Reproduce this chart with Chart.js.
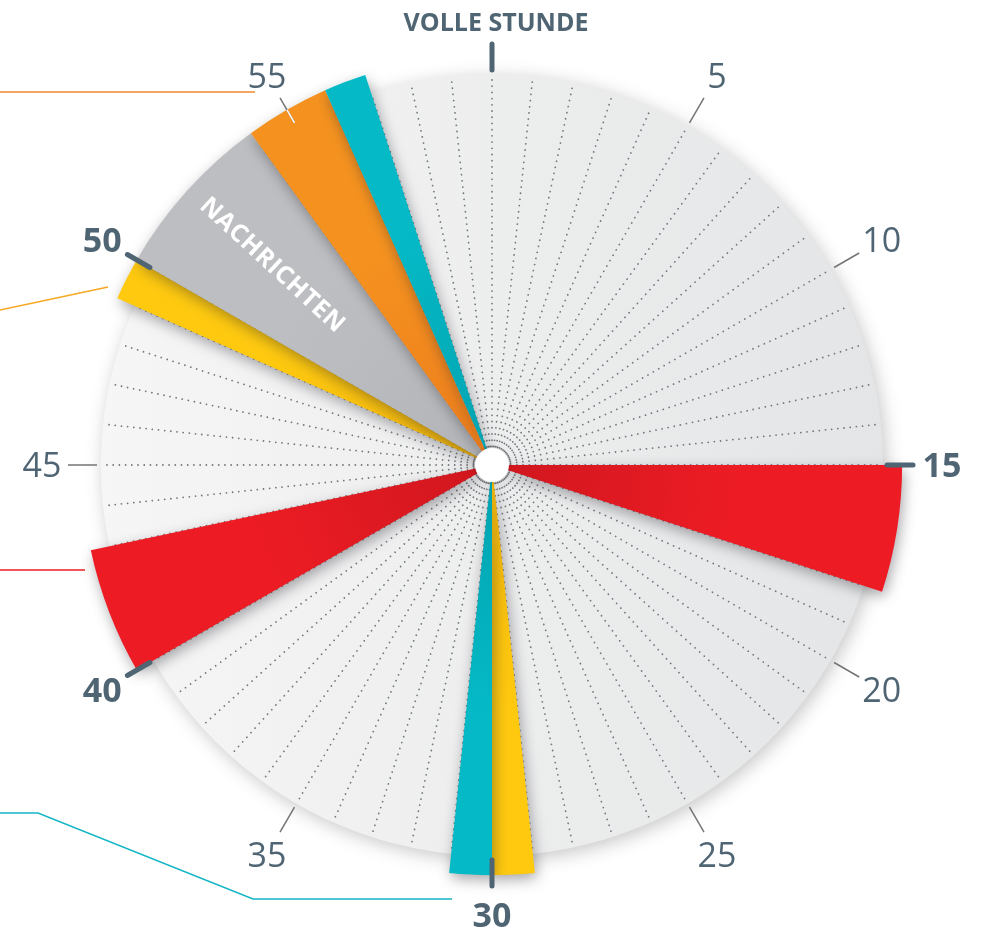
<!DOCTYPE html>
<html>
<head>
<meta charset="utf-8">
<script src="https://cdn.jsdelivr.net/npm/chart.js@4/dist/chart.umd.min.js"></script>
<style>
  html, body { margin: 0; padding: 0; background: #ffffff; }
  canvas { display: block; }
</style>
</head>
<body>
<canvas id="c" width="986" height="930"></canvas>
<script>
// ---- DATA -------------------------------------------------------------
// Minutes of the hour (categories of the clock face)
const minuteLabels = ['0','1','2','3','4','5','6','7','8','9','10','11','12','13','14','15','16','17','18','19',
  '20','21','22','23','24','25','26','27','28','29','30','31','32','33','34','35','36','37','38','39',
  '40','41','42','43','44','45','46','47','48','49','50','51','52','53','54','55','56','57','58','59'];

// Blocks of the hour, in order from the full hour
const segmentType    = ['frei','rot','frei','gelb','tuerkis','frei','rot','frei','gelb','nachrichten','orange','tuerkis','frei'];
const segmentMinutes = [15, 3, 11, 1, 1, 9, 3, 6, 1, 4, 2, 1, 3];
const segmentOnAir   = [0, 1, 0, 1, 1, 0, 1, 0, 1, 1, 1, 1, 0];
const segmentTitles  = ['', '', '', '', '', '', '', '', '', 'NACHRICHTEN', '', '', ''];

// Clock-face ticks
const tickMinutes = [0, 5, 10, 15, 20, 25, 30, 35, 40, 45, 50, 55];
const tickLabels  = ['VOLLE STUNDE', '5', '10', '15', '20', '25', '30', '35', '40', '45', '50', '55'];
const majorTicks  = [0, 15, 30, 40, 50];

// ---- STYLE ------------------------------------------------------------
const COLORS = {
  rot:         ['#CF161E', '#ED1C24'],
  tuerkis:     ['#02A2AF', '#05B9C6'],
  gelb:        ['#F4B50B', '#FEC90F'],
  nachrichten: ['#B3B4B7', '#BDBEC1'],
  orange:      ['#EC7C1D', '#F5921F'],
  frei:        ['rgba(0,0,0,0)', 'rgba(0,0,0,0)']
};
const SLATE = '#506573';
const MINOR = '#737477';
const SCALE_MAX = 0.946;   // on-air blocks reach a little beyond the clock face

// cumulative start minute of each block
const segmentStart = [];
segmentMinutes.reduce((acc, m, i) => { segmentStart[i] = acc; return acc + m; }, 0);
function onAirAt(minute) {
  for (let i = 0; i < segmentStart.length; i++) {
    if (minute >= segmentStart[i] && minute < segmentStart[i] + segmentMinutes[i]) return segmentOnAir[i] === 1;
  }
  return false;
}

function fillFor(ctx) {
  const t = segmentType[ctx.dataIndex];
  const c = COLORS[t];
  if (!c) return 'rgba(0,0,0,0)';
  const chart = ctx.chart;
  const s = chart.scales && chart.scales.r;
  if (t === 'frei' || !s || !chart.chartArea || !isFinite(s.xCenter)) return c[1];
  const R = s.getDistanceFromCenterForValue(1);
  if (!isFinite(R) || R <= 0) return c[1];
  const g = chart.ctx.createRadialGradient(s.xCenter, s.yCenter, 0, s.xCenter, s.yCenter, R);
  g.addColorStop(0, c[0]);
  g.addColorStop(0.6, c[1]);
  g.addColorStop(1, c[1]);
  return g;
}

function angleFor(ctx) {
  const m = segmentMinutes[ctx.dataIndex];
  return m === undefined ? undefined : m * 6;
}

const clockFace = {
  id: 'clockFace',
  beforeDraw(chart) {
    const s = chart.scales.r, ctx = chart.ctx;
    const R = s.drawingArea * 1.008;
    ctx.save();
    ctx.shadowColor = 'rgba(0,0,0,0.22)';
    ctx.shadowBlur = 18;
    ctx.shadowOffsetX = 3;
    ctx.shadowOffsetY = 4;
    const g = ctx.createLinearGradient(s.xCenter - R, 0, s.xCenter + R, 0);
    g.addColorStop(0, '#F6F6F6');
    g.addColorStop(1, '#E4E5E6');
    ctx.fillStyle = g;
    ctx.beginPath();
    ctx.arc(s.xCenter, s.yCenter, R, 0, Math.PI * 2);
    ctx.fill();
    ctx.restore();
    // round dots for the dotted minute lines
    ctx.lineCap = 'round';
  },
  beforeDatasetsDraw(chart) {
    const ctx = chart.ctx;
    ctx.lineCap = 'butt';
    ctx.save();
    ctx.shadowColor = 'rgba(30,30,40,0.38)';
    ctx.shadowBlur = 14;
    ctx.shadowOffsetX = 2;
    ctx.shadowOffsetY = 5;
  },
  afterDatasetsDraw(chart) {
    const ctx = chart.ctx, s = chart.scales.r;
    ctx.restore();
    const u = s.drawingArea / 388;
    // segment titles
    segmentTitles.forEach((title, i) => {
      if (!title) return;
      const mid = segmentStart[i] + segmentMinutes[i] / 2 + 0.1;
      const p = s.getPointPosition(mid, 297 * u);
      const a = s.getIndexAngle(mid) - Math.PI / 2 + Math.PI;
      ctx.save();
      ctx.translate(p.x, p.y);
      ctx.rotate(a);
      ctx.fillStyle = '#ffffff';
      ctx.font = 'bold 25px "Open Sans", "Noto Sans", sans-serif';
      ctx.letterSpacing = '0.5px';
      ctx.textAlign = 'center';
      ctx.textBaseline = 'alphabetic';
      ctx.fillText(title, 0, 9);
      ctx.restore();
    });
    // white hub
    ctx.save();
    ctx.shadowColor = 'rgba(0,0,0,0.18)';
    ctx.shadowBlur = 5;
    ctx.fillStyle = '#ffffff';
    ctx.beginPath();
    ctx.arc(s.xCenter, s.yCenter, 17 * u, 0, Math.PI * 2);
    ctx.fill();
    ctx.restore();
  },
  afterDraw(chart) {
    const ctx = chart.ctx, s = chart.scales.r;
    const u = s.drawingArea / 388;
    const cx = s.xCenter, cy = s.yCenter;

    // leader lines towards the legend (left, outside the picture)
    ctx.save();
    ctx.lineWidth = 1.6;
    const lines = [
      ['#F0892C', [[0, -373], [-237, -373]]],
      ['#F7A823', [[0, -155], [-384, -178]]],
      ['#ED1C24', [[0, 105], [-407, 105]]],
      ['#15B6C6', [[0, 348], [-454, 348], [-239, 434], [-40, 434]]]
    ];
    lines.forEach(([col, pts]) => {
      ctx.strokeStyle = col;
      ctx.beginPath();
      pts.forEach(([dx, dy], k) => {
        const x = dx === 0 ? 0 : cx + dx * u;
        const y = cy + dy * u;
        if (k === 0) ctx.moveTo(x, y); else ctx.lineTo(x, y);
      });
      ctx.stroke();
    });
    ctx.restore();

    // ticks
    tickMinutes.forEach((m) => {
      const major = majorTicks.includes(m);
      const p1 = s.getPointPosition(m, 395 * u);
      const p2 = s.getPointPosition(m, (major ? 421 : 424) * u);
      ctx.save();
      ctx.lineCap = major ? 'round' : 'butt';
      ctx.lineWidth = major ? 5 : 1.5;
      ctx.strokeStyle = major ? SLATE : MINOR;
      ctx.beginPath();
      ctx.moveTo(p1.x, p1.y);
      ctx.lineTo(p2.x, p2.y);
      ctx.stroke();
      if (!major && onAirAt(m)) {
        const p3 = s.getPointPosition(m, 410 * u);
        ctx.strokeStyle = '#ffffff';
        ctx.beginPath();
        ctx.moveTo(p1.x, p1.y);
        ctx.lineTo(p3.x, p3.y);
        ctx.stroke();
      }
      ctx.restore();
    });

    // tick labels
    tickMinutes.forEach((m, i) => {
      const label = tickLabels[i];
      const major = majorTicks.includes(m);
      const isText = isNaN(Number(label));
      const size = isText ? 25 : 34;
      const p = s.getPointPosition(m, (isText ? 443 : 450) * u);
      ctx.save();
      ctx.fillStyle = SLATE;
      ctx.font = (major ? 'bold ' : '') + size + 'px "Open Sans", "Noto Sans", sans-serif';
      ctx.textAlign = 'center';
      ctx.textBaseline = 'alphabetic';
      ctx.fillText(label, p.x + (isText ? 4 : 0), p.y + size * 0.36);
      ctx.restore();
    });
  }
};

new Chart(document.getElementById('c'), {
  type: 'polarArea',
  data: {
    labels: minuteLabels,
    datasets: [{
      data: segmentOnAir,
      angle: angleFor,
      backgroundColor: fillFor,
      borderWidth: 0,
      clip: false
    }]
  },
  options: {
    responsive: false,
    animation: false,
    events: [],
    layout: { padding: { left: 0, right: 2, top: 77, bottom: 77 } },
    plugins: { legend: { display: false }, tooltip: { enabled: false } },
    scales: {
      r: {
        min: 0,
        max: SCALE_MAX,
        startAngle: 0,
        ticks: { display: false },
        grid: { display: false },
        pointLabels: { display: false },
        angleLines: { display: true, color: '#74777c', lineWidth: 1.8, borderDash: [0.01, 6.2] }
      }
    }
  },
  plugins: [clockFace]
});
</script>
</body>
</html>
